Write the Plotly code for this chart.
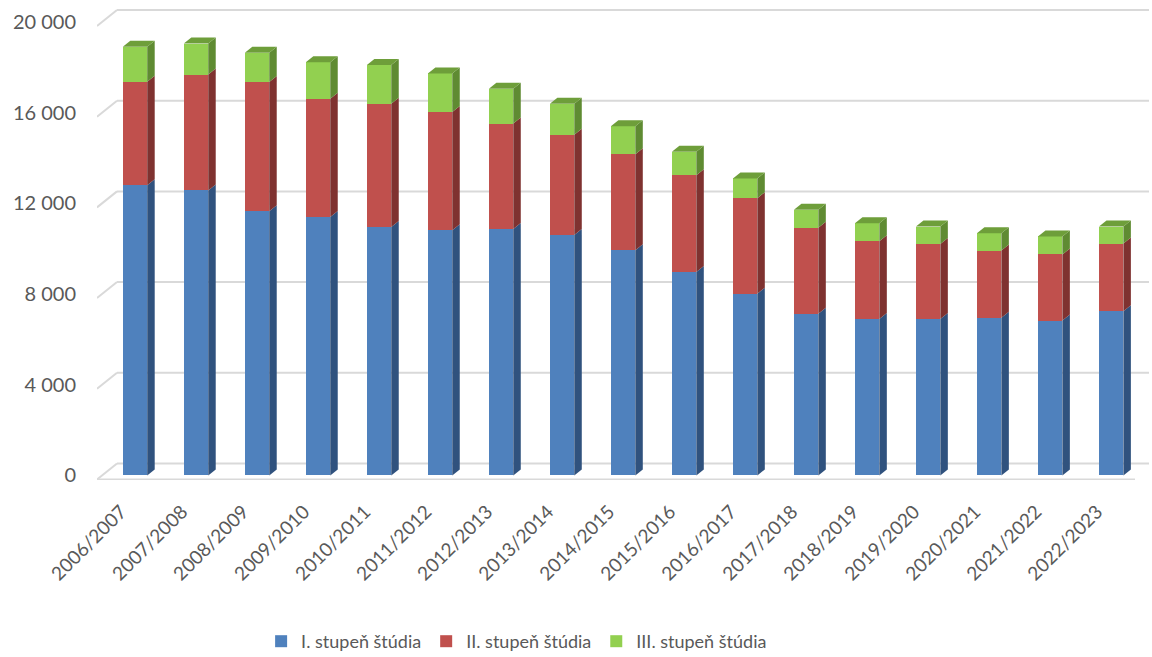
import plotly.graph_objects as go

categories = ["2006/2007", "2007/2008", "2008/2009", "2009/2010", "2010/2011", "2011/2012",
              "2012/2013", "2013/2014", "2014/2015", "2015/2016", "2016/2017", "2017/2018",
              "2018/2019", "2019/2020", "2020/2021", "2021/2022", "2022/2023"]
stupen1 = [12800, 12570, 11650, 11400, 10960, 10820, 10870, 10610, 9930, 8970, 8020, 7130,
           6900, 6900, 6960, 6830, 7240]
stupen2 = [4570, 5110, 5700, 5220, 5440, 5210, 4650, 4420, 4240, 4270, 4210, 3800,
           3430, 3310, 2960, 2920, 2990]
stupen3 = [1540, 1370, 1290, 1610, 1700, 1700, 1540, 1360, 1230, 1040, 870, 790,
           790, 770, 760, 790, 750]
series_names = ["I. stupeň štúdia", "II. stupeň štúdia", "III. stupeň štúdia"]
y_ticks = [0, 4000, 8000, 12000, 16000, 20000]
y_ticktext = ["0", "4 000", "8 000", "12 000", "16 000", "20 000"]

front_col = ["#4F81BD", "#C0504D", "#92D050"]
side_col = ["#30527E", "#7F3230", "#5F8B32"]
top_col = "#6E9E3A"
grid_col = "#D9D9D9"
font_col = "#595959"
FONT = "Lato"

W, H = 1152, 657
ML, MR, MT, MB = 97, 3, 5, 177
x_range = [-0.623, 16.62]
y_range = [-200, 20750]
px_x = (W - ML - MR) / (x_range[1] - x_range[0])
px_y = (H - MT - MB) / (y_range[1] - y_range[0])

bar_w = 0.40
dx = 7.5 / px_x          # depth offset (x) of bar side faces
dy = 6.0 / px_y          # depth offset (y) of bar side faces
front_shift = -4.0 / px_y   # front plane relative to bars
back_shift = 12.0 / px_y    # back wall relative to bars
back_dx = 20.0 / px_x
floor_right = x_range[1] - 14.0 / px_x

xs = list(range(len(categories)))
fig = go.Figure()
series = [stupen1, stupen2, stupen3]
for name, vals, col in zip(series_names, series, front_col):
    fig.add_trace(go.Bar(x=xs, y=vals, name=name, width=bar_w,
                         marker=dict(color=col, line=dict(width=0))))

shapes = []
x0f = x_range[0]
x0b = x_range[0] + back_dx
for v in y_ticks:
    yf = v + front_shift
    yb = v + back_shift
    shapes.append(dict(type="line", xref="x", yref="y", x0=x0f, y0=yf, x1=x0b, y1=yb,
                       line=dict(color=grid_col, width=2), layer="below"))
    shapes.append(dict(type="line", xref="x", yref="y", x0=x0b, y0=yb, x1=x_range[1], y1=yb,
                       line=dict(color=grid_col, width=2), layer="below"))
shapes.append(dict(type="line", xref="x", yref="y", x0=x0f, y0=front_shift, x1=floor_right, y1=front_shift,
                   line=dict(color=grid_col, width=2), layer="below"))

for i in xs:
    base = 0
    xr = i + bar_w / 2
    xl = i - bar_w / 2
    for k, vals in enumerate(series):
        top = base + vals[i]
        path = f"M{xr},{base} L{xr+dx},{base+dy} L{xr+dx},{top+dy} L{xr},{top} Z"
        shapes.append(dict(type="path", xref="x", yref="y", path=path,
                           fillcolor=side_col[k], line=dict(width=0), layer="above"))
        base = top
    path = f"M{xl},{base} L{xl+dx},{base+dy} L{xr+dx},{base+dy} L{xr},{base} Z"
    shapes.append(dict(type="path", xref="x", yref="y", path=path,
                       fillcolor=top_col, line=dict(width=0), layer="above"))

fig.update_layout(
    width=W, height=H,
    margin=dict(l=ML, r=MR, t=MT, b=MB, autoexpand=False),
    barmode="stack",
    paper_bgcolor="white", plot_bgcolor="white",
    font=dict(family=FONT, size=20, color=font_col),
    shapes=shapes,
    xaxis=dict(range=x_range, tickmode="array", tickvals=xs, ticktext=categories,
               tickangle=-45, showgrid=False, zeroline=False, showline=False,
               ticks="", ticklabelstandoff=16, ticklabelshift=-14,
               tickfont=dict(size=19, color=font_col, family=FONT)),
    yaxis=dict(range=y_range, tickmode="array", tickvals=y_ticks, ticktext=y_ticktext,
               showgrid=False, zeroline=False, showline=False, ticks="",
               ticklabelstandoff=20, tickfont=dict(size=20, color=font_col, family=FONT)),
    legend=dict(orientation="h", x=0.156, xanchor="left", y=-0.34, yanchor="middle",
                font=dict(size=18, color=font_col, family=FONT), traceorder="normal",
                itemclick=False),
    showlegend=True,
)

fig.write_html("out.html", post_script="document.body.style.margin='0';",
               config={"displayModeBar": False})
